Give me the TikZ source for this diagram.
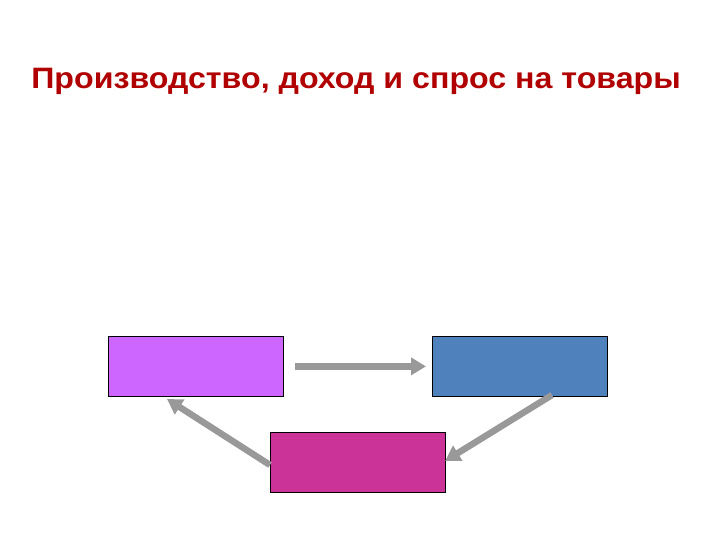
\documentclass[tikz,border=0pt]{standalone}
\usepackage{fontspec}
\setmainfont{Liberation Sans}
\newfontfamily\titlefont[FakeStretch=1.09]{Liberation Sans Bold}
\usetikzlibrary{arrows.meta,calc}
\definecolor{titlered}{HTML}{B00000}
\definecolor{boxviolet}{HTML}{CC66FF}
\definecolor{boxblue}{HTML}{4F81BD}
\definecolor{boxmagenta}{HTML}{CC3399}
\definecolor{arrowgray}{HTML}{999999}
\begin{document}
\begin{tikzpicture}[x=1pt,y=-1pt,
  boxnode/.style={draw=black,line width=0.8pt,minimum width=175pt,minimum height=60pt,inner sep=0pt,anchor=north west},
  flow/.style={draw=arrowgray,line width=6.5pt,-{Triangle[length=15pt,width=17pt]}}]
\useasboundingbox (0,0) rectangle (720,540);
\node[text=titlered,font=\titlefont\fontsize{29.5}{34}\selectfont,anchor=base] (title) at (356,89) {Производство, доход и спрос на товары};
\node[boxnode,fill=boxviolet] (a) at (108,336) {};
\node[boxnode,fill=boxblue] (b) at (432,336) {};
\node[boxnode,fill=boxmagenta] (c) at (270,432) {};
\coordinate (a1) at ($(a.east)+(11,0)$);
\coordinate (b1) at ($(b.west)+(-6,0)$);
\coordinate (b2) at (552,395);
\coordinate (c2) at (445,461);
\coordinate (c3) at (270,465);
\coordinate (a3) at (167,399);
\draw[flow] (a1) -- (b1);
\draw[flow] (b2) -- (c2);
\draw[flow] (c3) -- (a3);
\end{tikzpicture}
\end{document}
